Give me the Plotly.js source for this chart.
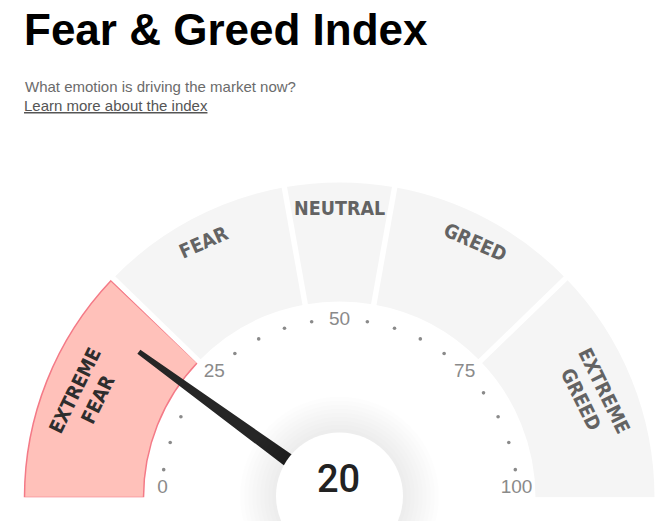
<!DOCTYPE html>
<html>
<head>
<meta charset="utf-8">
<script src="https://cdn.plot.ly/plotly-3.0.1.min.js"></script>
<style>
  html, body { margin: 0; padding: 0; background: #ffffff; }
  #chart { width: 670px; height: 521px; }
</style>
</head>
<body>
<div id="chart"></div>
<script>
// ---------------- data ----------------
const segmentNames  = ['EXTREME FEAR', 'FEAR', 'NEUTRAL', 'GREED', 'EXTREME GREED'];
const segmentStarts = [0, 24.5, 44.4, 55.6, 75.5];
const segmentEnds   = [24.5, 44.4, 55.6, 75.5, 100];
const currentValue  = 20;
const tickValues    = [0, 25, 50, 75, 100];
const tickLabels    = ['0', '25', '50', '75', '100'];
const dotValues     = [5, 10, 15, 20, 30, 35, 40, 45, 55, 60, 65, 70, 80, 85, 90, 95];

// ---------------- geometry / style ----------------
const W = 670, H = 521;
const CX = 339.5, CY = 497.5;     // gauge centre in pixels
const RMAX = 320;                 // radial axis range (1 unit = 1 px)
const R_IN = 196, R_OUT = 315;    // band radii
const R_DOTS = 178, R_TICK = 177;
const DEG_PER_UNIT = 180 / 100;
const toTheta = v => v * DEG_PER_UNIT;

const GRAY = '#f5f5f5';
const PINK = '#ffc1ba';
const PINK_LINE = '#f47a87';
const LABEL_COLOR = '#636363';
const NARROW = 'Liberation Sans Narrow, DejaVu Sans Condensed, Arial Narrow, sans-serif';
const SANS = 'Liberation Sans, Arial, Helvetica, sans-serif';

const xp = px => px / W;
const yp = py => 1 - py / H;
function polarPx(v, r) {
  const a = (180 - toTheta(v)) * Math.PI / 180;
  return [CX + r * Math.cos(a), CY - r * Math.sin(a)];
}

// ---------------- traces ----------------
const traces = [];

// grey bands (all but extreme fear)
traces.push({
  type: 'barpolar',
  theta: segmentStarts.slice(1).map((s, i) => toTheta((s + segmentEnds[i + 1]) / 2)),
  width: segmentStarts.slice(1).map((s, i) => toTheta(segmentEnds[i + 1] - s)),
  base: segmentStarts.slice(1).map(() => R_IN),
  r: segmentStarts.slice(1).map(() => R_OUT - R_IN),
  marker: { color: GRAY, line: { width: 0 } },
  hoverinfo: 'skip', showlegend: false
});

// extreme fear band (current zone, highlighted)
const efPad = 0.35;
traces.push({
  type: 'barpolar',
  theta: [toTheta((segmentStarts[0] + segmentEnds[0] - efPad) / 2)],
  width: [toTheta(segmentEnds[0] - efPad - segmentStarts[0])],
  base: [R_IN],
  r: [R_OUT - R_IN],
  marker: { color: PINK, line: { width: 1.5, color: PINK_LINE } },
  hoverinfo: 'skip', showlegend: false
});

// white gaps between bands
const gapR = [], gapT = [];
segmentEnds.slice(0, -1).forEach(b => {
  gapR.push(R_IN - 4, R_OUT + 4, null);
  gapT.push(toTheta(b), toTheta(b), null);
});
traces.push({
  type: 'scatterpolar', mode: 'lines',
  r: gapR, theta: gapT, connectgaps: false,
  line: { color: '#ffffff', width: 5.5 },
  hoverinfo: 'skip', showlegend: false
});

// dotted scale
traces.push({
  type: 'scatterpolar', mode: 'markers',
  r: dotValues.map(() => R_DOTS), theta: dotValues.map(toTheta),
  marker: { size: 3.6, color: '#8a8a8a' },
  hoverinfo: 'skip', showlegend: false
});

// scale labels
traces.push({
  type: 'scatterpolar', mode: 'text',
  r: tickValues.map(() => R_TICK), theta: tickValues.map(toTheta),
  text: tickLabels,
  textposition: tickValues.map((v, i) => (i === 0 || i === tickValues.length - 1) ? 'top center' : 'middle center'),
  textfont: { family: SANS, size: 19, color: '#8a8a8a' },
  hoverinfo: 'skip', showlegend: false
});

// needle (tapered polygon pointing at the current value)
const nBaseR = 52, nTipR = 247, nBaseHalf = 6.0, nTipHalf = 1.6;
const aBase = Math.atan(nBaseHalf / nBaseR) * 180 / Math.PI;
const aTip = Math.atan(nTipHalf / nTipR) * 180 / Math.PI;
const tv = toTheta(currentValue);
traces.push({
  type: 'scatterpolar', mode: 'lines', fill: 'toself',
  r: [nBaseR, nTipR, nTipR, nBaseR, nBaseR],
  theta: [tv - aBase, tv - aTip, tv + aTip, tv + aBase, tv - aBase],
  fillcolor: '#262626',
  line: { color: '#262626', width: 2 },
  hoverinfo: 'skip', showlegend: false
});

// ---------------- shapes (centre hub with soft halo) ----------------
const hubCX = 339.5, hubCY = 496, hubR = 63.5;
const shapes = [];
for (let k = 9; k >= 1; k--) {
  const rr = hubR + k * 4;
  shapes.push({
    type: 'circle', layer: 'above',
    xref: 'paper', yref: 'paper', xsizemode: 'pixel', ysizemode: 'pixel',
    xanchor: xp(hubCX), yanchor: yp(hubCY),
    x0: -rr, x1: rr, y0: -rr, y1: rr,
    fillcolor: 'rgba(0,0,0,0.008)', line: { width: 0 }
  });
}
shapes.push({
  type: 'circle', layer: 'above',
  xref: 'paper', yref: 'paper', xsizemode: 'pixel', ysizemode: 'pixel',
  xanchor: xp(hubCX), yanchor: yp(hubCY),
  x0: -hubR, x1: hubR, y0: -hubR, y1: hubR,
  fillcolor: '#ffffff', line: { width: 0 }
});

// ---------------- annotations ----------------
const annotations = [];
annotations.push({
  text: 'Fear & Greed Index', x: xp(21.5), y: yp(29.5), xref: 'paper', yref: 'paper',
  xanchor: 'left', yanchor: 'middle', showarrow: false,
  font: { family: SANS, size: 44, color: '#000000', weight: 'bold' }
});
annotations.push({
  text: 'What emotion is driving the market now?', x: xp(22.6), y: yp(87), xref: 'paper', yref: 'paper',
  xanchor: 'left', yanchor: 'middle', showarrow: false,
  font: { family: SANS, size: 15, color: '#6b6b6b' }
});
annotations.push({
  text: '<u>Learn more about the index</u>', x: xp(21.6), y: yp(105.4), xref: 'paper', yref: 'paper',
  xanchor: 'left', yanchor: 'middle', showarrow: false,
  font: { family: SANS, size: 15, color: '#555555' }
});

// band labels
segmentNames.forEach((name, i) => {
  const mid = (segmentStarts[i] + segmentEnds[i]) / 2;
  const thetaMath = 180 - toTheta(mid);
  const tang = 90 - thetaMath;
  const rot = Math.sign(tang) * Math.max(0, Math.abs(tang) - 4);
  const words = name.split(' ');
  const radii = words.length === 2 ? [285, 260] : [289];
  const color = i === 0 ? '#2e2e2e' : LABEL_COLOR;
  words.forEach((w, j) => {
    const [px, py] = polarPx(mid, radii[j]);
    annotations.push({
      text: w, x: xp(px), y: yp(py), xref: 'paper', yref: 'paper',
      xanchor: 'center', yanchor: 'middle', showarrow: false, textangle: rot,
      font: { family: NARROW, size: 19.5, color: color, weight: 'bold' }
    });
  });
});

// current value
annotations.push({
  text: String(currentValue), x: xp(338.5), y: yp(478.5), xref: 'paper', yref: 'paper',
  xanchor: 'center', yanchor: 'middle', showarrow: false,
  font: { family: 'Roboto, ' + SANS, size: 38, color: '#222222', weight: 500 }
});

const layout = {
  width: W, height: H,
  margin: { l: 0, r: 0, t: 0, b: 0, pad: 0 },
  paper_bgcolor: '#ffffff', plot_bgcolor: '#ffffff',
  showlegend: false,
  polar: {
    domain: { x: [(CX - RMAX) / W, (CX + RMAX) / W], y: [(H - CY) / H, (H - CY + RMAX) / H] },
    sector: [0, 180],
    hole: 0,
    bgcolor: 'rgba(0,0,0,0)',
    barmode: 'overlay',
    radialaxis: { visible: false, range: [0, RMAX], autorange: false },
    angularaxis: { visible: false, rotation: 180, direction: 'clockwise', thetaunit: 'degrees' }
  },
  shapes: shapes,
  annotations: annotations
};

Plotly.newPlot('chart', traces, layout, { staticPlot: true, displayModeBar: false });
</script>
</body>
</html>
